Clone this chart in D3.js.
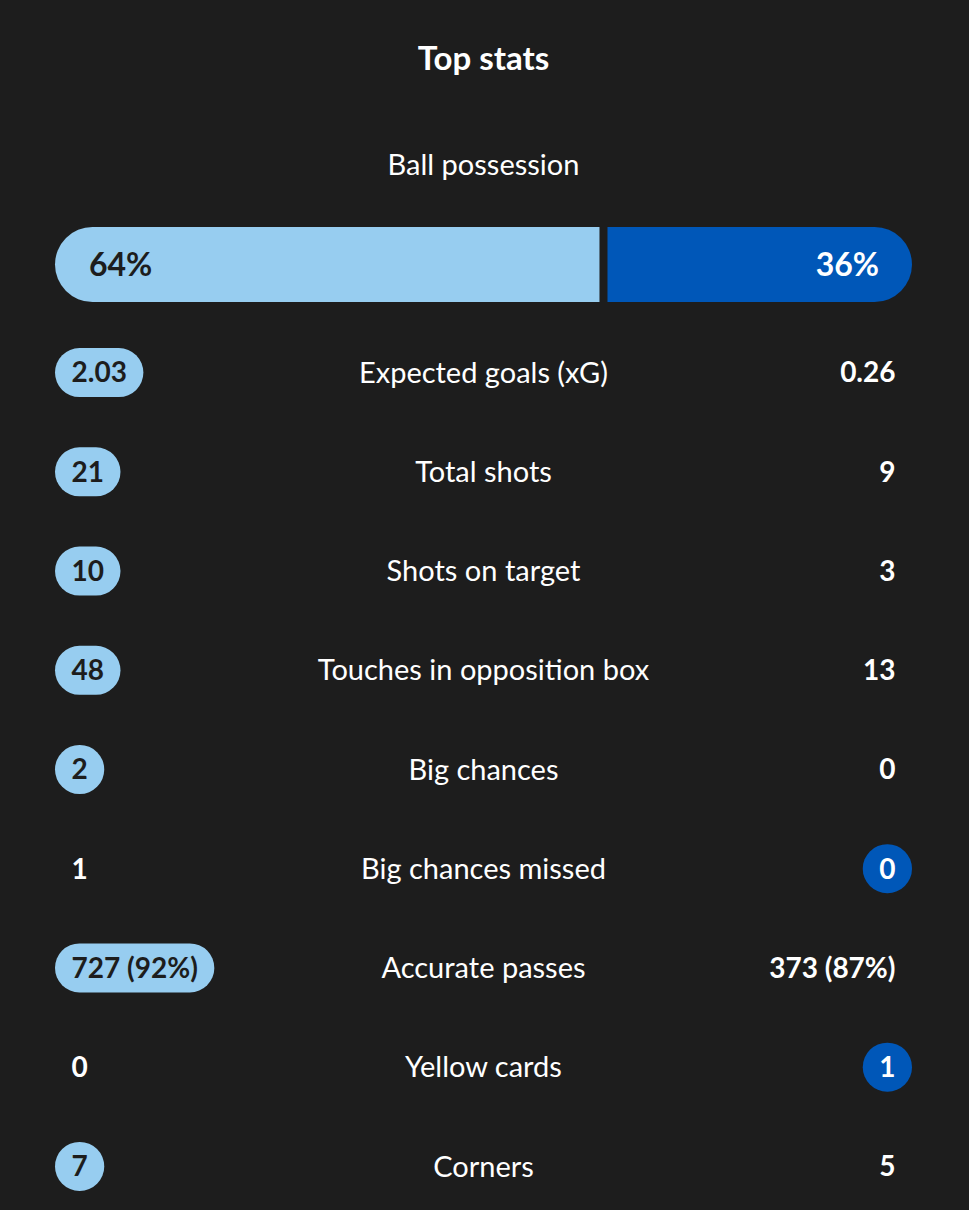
<!DOCTYPE html>
<html>
<head>
<meta charset="utf-8">
<script src="https://cdn.jsdelivr.net/npm/d3@7"></script>
<style>
  html, body { margin: 0; padding: 0; background: #1d1d1d; }
  svg { display: block; }
  text { font-family: Lato, "Noto Sans", sans-serif; }
</style>
</head>
<body>
<div id="chart"></div>
<script>
// Data
const title = 'Top stats';
const possessionLabel = 'Ball possession';
const possession = [64, 36];
const statNames = ['Expected goals (xG)', 'Total shots', 'Shots on target', 'Touches in opposition box',
  'Big chances', 'Big chances missed', 'Accurate passes', 'Yellow cards', 'Corners'];
const homeValues = ['2.03', '21', '10', '48', '2', '1', '727 (92%)', '0', '7'];
const awayValues = ['0.26', '9', '3', '13', '0', '0', '373 (87%)', '1', '5'];
const highlighted = ['home', 'home', 'home', 'home', 'home', 'away', 'home', 'away', 'home'];

const W = 969, H = 1210;
const margin = {left: 55, right: 57};
const colors = {bg: '#1d1d1d', home: '#97cdf0', away: '#0057b8', dark: '#1d1d1d', light: '#ffffff'};
const labelSize = '29px', valueSize = '28px';

const svg = d3.select('#chart').append('svg')
    .attr('width', W)
    .attr('height', H);

svg.append('rect').attr('width', W).attr('height', H).attr('fill', colors.bg);

const cx = (margin.left + W - margin.right) / 2;

svg.append('text')
    .attr('x', cx).attr('y', 58)
    .attr('dy', '0.35em')
    .attr('text-anchor', 'middle')
    .attr('fill', colors.light)
    .style('font-size', '33px')
    .style('font-weight', 700)
    .text(title);

svg.append('text')
    .attr('x', cx).attr('y', 165)
    .attr('dy', '0.35em')
    .attr('text-anchor', 'middle')
    .attr('fill', colors.light)
    .style('font-size', labelSize)
    .text(possessionLabel);

// Possession bar
const x = d3.scaleLinear().domain([0, 100]).range([margin.left, W - margin.right]);
const barTop = 227, barH = 75, gap = 4, r = barH / 2;
const split = x(possession[0]);

// rounded on one end only
const halfPill = (x0, x1, roundLeft) => {
  const p = d3.path();
  if (roundLeft) {
    p.moveTo(x1, barTop);
    p.lineTo(x0 + r, barTop);
    p.arc(x0 + r, barTop + r, r, -Math.PI / 2, Math.PI / 2, true);
    p.lineTo(x1, barTop + barH);
  } else {
    p.moveTo(x0, barTop);
    p.lineTo(x1 - r, barTop);
    p.arc(x1 - r, barTop + r, r, -Math.PI / 2, Math.PI / 2, false);
    p.lineTo(x0, barTop + barH);
  }
  p.closePath();
  return p.toString();
};

const bar = svg.append('g').attr('id', 'possession');
bar.append('path').attr('d', halfPill(x(0), split - gap, true)).attr('fill', colors.home);
bar.append('path').attr('d', halfPill(split + gap, x(100), false)).attr('fill', colors.away);

bar.append('text')
    .attr('x', x(0) + 34).attr('y', barTop + barH / 2)
    .attr('dy', '0.35em')
    .attr('fill', colors.dark)
    .style('font-size', '32px')
    .style('font-weight', 700)
    .text(possession[0] + '%');
bar.append('text')
    .attr('x', x(100) - 33).attr('y', barTop + barH / 2)
    .attr('dy', '0.35em')
    .attr('text-anchor', 'end')
    .attr('fill', colors.light)
    .style('font-size', '32px')
    .style('font-weight', 700)
    .text(possession[1] + '%');

// Stat rows
const y = d3.scaleBand()
    .domain(statNames)
    .range([323, 1216])
    .padding(0);

const pad = 16.5, pillH = 49;
const rows = svg.append('g').attr('id', 'stats')
  .selectAll('g')
  .data(statNames)
  .join('g')
    .attr('transform', d => `translate(0, ${y(d) + y.bandwidth() / 2})`);

rows.append('text')
    .attr('x', cx)
    .attr('dy', '0.35em')
    .attr('text-anchor', 'middle')
    .attr('fill', colors.light)
    .style('font-size', labelSize)
    .text(d => d);

rows.each(function(d, i) {
  const g = d3.select(this);
  const side = highlighted[i];

  const homePill = g.append('rect');
  const homeText = g.append('text')
      .attr('x', margin.left + pad)
      .attr('dy', '0.35em')
      .attr('fill', side === 'home' ? colors.dark : colors.light)
      .style('font-size', valueSize)
      .style('font-weight', 700)
      .text(homeValues[i]);
  if (side === 'home') {
    const w = homeText.node().getComputedTextLength() + pad * 2;
    homePill.attr('x', margin.left).attr('y', -pillH / 2)
        .attr('width', Math.max(w, 44)).attr('height', pillH)
        .attr('rx', pillH / 2).attr('ry', pillH / 2)
        .attr('fill', colors.home);
  } else homePill.remove();

  const awayPill = g.append('rect');
  const awayText = g.append('text')
      .attr('x', W - margin.right - pad)
      .attr('dy', '0.35em')
      .attr('text-anchor', 'end')
      .attr('fill', colors.light)
      .style('font-size', valueSize)
      .style('font-weight', 700)
      .text(awayValues[i]);
  if (side === 'away') {
    const w = Math.max(awayText.node().getComputedTextLength() + pad * 2, 44);
    awayPill.attr('x', W - margin.right - w).attr('y', -pillH / 2)
        .attr('width', w).attr('height', pillH)
        .attr('rx', pillH / 2).attr('ry', pillH / 2)
        .attr('fill', colors.away);
  } else awayPill.remove();
});
</script>
</body>
</html>
